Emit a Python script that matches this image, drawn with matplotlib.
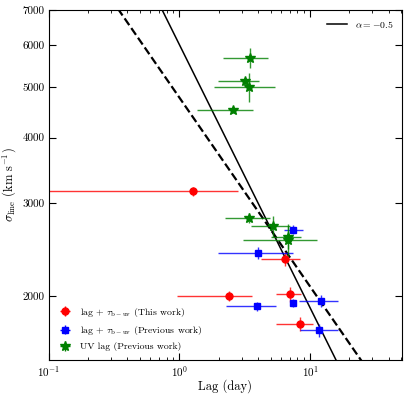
import matplotlib
matplotlib.use("Agg")
import matplotlib.pyplot as plt
import numpy as np
from matplotlib.ticker import FixedLocator, FixedFormatter, NullLocator

plt.rcParams["font.family"] = "serif"
plt.rcParams["font.serif"] = ["cmr10"]
plt.rcParams["mathtext.fontset"] = "cm"
plt.rcParams["axes.formatter.use_mathtext"] = True

# lag + tau_b-uv (this work): lag, lag err low/high, sigma, sigma err
red_lag = [1.26, 6.46, 2.39, 6.97, 8.41]
red_lag_lo = [1.21, 2.28, 1.44, 1.47, 2.91]
red_lag_hi = [1.54, 1.99, 1.19, 1.58, 2.09]
red_sig = [3163, 2356, 2000, 2015, 1768]
red_sig_err = [60, 70, 45, 65, 55]

# lag + tau_b-uv (previous work)
blue_lag = [7.38, 3.98, 3.91, 7.38, 12.2, 11.7]
blue_lag_lo = [1.08, 2.01, 1.63, 0.35, 3.9, 3.25]
blue_lag_hi = [1.42, 3.40, 1.59, 0.45, 4.1, 4.6]
blue_sig = [2675, 2417, 1912, 1940, 1957, 1722]
blue_sig_err = [50, 60, 40, 30, 50, 50]

# UV lag (previous work)
green_lag = [3.44, 3.20, 3.42, 2.56, 3.40, 5.25, 6.80, 6.80]
green_lag_lo = [1.27, 1.22, 1.57, 1.19, 1.18, 1.71, 3.74, 1.80]
green_lag_hi = [1.34, 0.85, 1.96, 1.13, 1.50, 1.72, 4.60, 1.80]
green_sig = [5680, 5122, 4990, 4520, 2815, 2715, 2558, 2590]
green_sig_err = [250, 80, 310, 70, 60, 130, 180, 130]

# sigma = A * lag^alpha
line_x = np.array([0.1, 60.0])
solid_norm, solid_alpha = 6010.0, -0.5
dash_norm, dash_alpha = 4767.0, -0.359

fig = plt.figure(figsize=(4.07, 3.97), dpi=100)
ax = fig.add_axes([0.120, 0.093, 0.868, 0.882])

l1, = ax.plot(line_x, solid_norm * line_x**solid_alpha, "k-", lw=1.1, label=r"$\alpha=-0.5$")
ax.plot(line_x, dash_norm * line_x**dash_alpha, "k--", lw=1.6)

ekw = dict(fmt="none", elinewidth=1.0, alpha=0.8, capsize=0)
ax.errorbar(red_lag, red_sig, xerr=[red_lag_lo, red_lag_hi], yerr=red_sig_err, ecolor="red", **ekw)
ax.errorbar(blue_lag, blue_sig, xerr=[blue_lag_lo, blue_lag_hi], yerr=blue_sig_err, ecolor="blue", **ekw)
ax.errorbar(green_lag, green_sig, xerr=[green_lag_lo, green_lag_hi], yerr=green_sig_err, ecolor="green", **ekw)
ax.plot(red_lag, red_sig, "o", color="red", ms=5, ls="none")
ax.plot(blue_lag, blue_sig, "s", color="blue", ms=5, ls="none")
ax.plot(green_lag, green_sig, "*", color="green", ms=7, ls="none")

h1 = ax.errorbar([], [], xerr=[], yerr=[], fmt="o", color="red", ms=5, elinewidth=1)
h2 = ax.errorbar([], [], xerr=[], yerr=[], fmt="s", color="blue", ms=5, elinewidth=1)
h3 = ax.errorbar([], [], xerr=[], yerr=[], fmt="*", color="green", ms=7, elinewidth=1)

ax.set_xscale("log")
ax.set_yscale("log")
ax.set_xlim(0.1, 50.7)
ax.set_ylim(1511, 7000)

yt = [2000, 3000, 4000, 5000, 6000, 7000]
ax.yaxis.set_major_locator(FixedLocator(yt))
ax.yaxis.set_major_formatter(FixedFormatter([str(v) for v in yt]))
ax.yaxis.set_minor_locator(NullLocator())

ax.tick_params(which="both", direction="in", top=True, right=True, labelsize=8, pad=3)
ax.tick_params(which="major", length=5)
ax.tick_params(which="minor", length=2.5)

ax.set_xlabel("Lag (day)", fontsize=9, labelpad=0)
ax.set_ylabel(r"$\sigma_{\rm line}$ (km s$^{-1}$)", fontsize=9, labelpad=3)

leg1 = ax.legend(handles=[l1], loc="upper right", frameon=False, fontsize=7)
ax.add_artist(leg1)
ax.legend([h1, h2, h3],
          [r"lag + $\tau_{\rm b-uv}$ (This work)",
           r"lag + $\tau_{\rm b-uv}$ (Previous work)",
           "UV lag (Previous work)"],
          loc="lower left", frameon=False, fontsize=7, handlelength=1.5,
          labelspacing=0.55, bbox_to_anchor=(0.0, 0.0))

fig.savefig("out.png", dpi=100)
